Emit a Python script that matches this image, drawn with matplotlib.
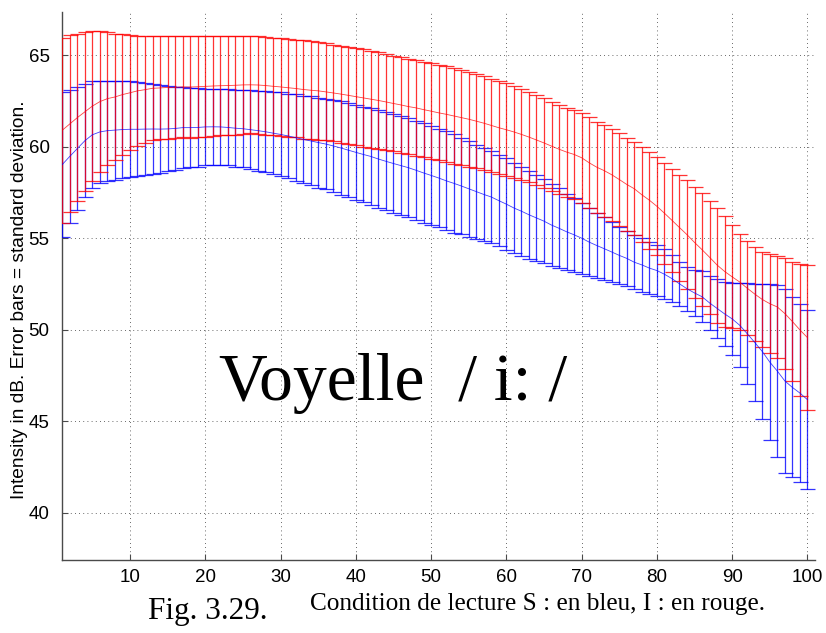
import numpy as np
import matplotlib
matplotlib.use("Agg")
import matplotlib.pyplot as plt

# ---------------- data ----------------
x = list(range(1, 101))

red_hi = [65.95, 66.09, 66.18, 66.26, 66.31, 66.31, 66.27, 66.18, 66.15, 66.11,
          66.07, 66.05, 66.04, 66.04, 66.04, 66.04, 66.04, 66.05, 66.05, 66.06,
          66.06, 66.06, 66.06, 66.06, 66.06, 66.05, 66.05, 66.03, 65.98, 65.95,
          65.91, 65.87, 65.82, 65.77, 65.73, 65.66, 65.59, 65.54, 65.48, 65.41,
          65.34, 65.26, 65.17, 65.07, 64.99, 64.90, 64.81, 64.74, 64.64, 64.57,
          64.46, 64.41, 64.32, 64.21, 64.10, 63.99, 63.86, 63.73, 63.59, 63.48,
          63.35, 63.19, 63.01, 62.84, 62.66, 62.48, 62.30, 62.15, 62.02, 61.87,
          61.62, 61.38, 61.22, 60.98, 60.75, 60.49, 60.25, 59.98, 59.73, 59.44,
          59.15, 58.82, 58.49, 58.18, 57.80, 57.47, 57.07, 56.69, 56.21, 55.72,
          55.26, 54.84, 54.52, 54.28, 54.13, 54.04, 53.92, 53.72, 53.62, 53.53]

red_lo = [55.87, 56.42, 57.02, 57.57, 58.15, 58.64, 59.01, 59.28, 59.57, 59.81,
          60.06, 60.21, 60.37, 60.41, 60.46, 60.48, 60.52, 60.50, 60.53, 60.56,
          60.60, 60.63, 60.65, 60.68, 60.72, 60.74, 60.72, 60.68, 60.65, 60.61,
          60.56, 60.52, 60.46, 60.43, 60.40, 60.36, 60.31, 60.24, 60.16, 60.09,
          60.02, 59.96, 59.91, 59.85, 59.76, 59.69, 59.60, 59.53, 59.44, 59.34,
          59.27, 59.16, 59.07, 59.00, 58.93, 58.83, 58.74, 58.62, 58.51, 58.40,
          58.29, 58.18, 58.07, 57.92, 57.78, 57.61, 57.45, 57.29, 57.16, 56.95,
          56.65, 56.41, 56.19, 55.98, 55.69, 55.41, 55.18, 54.79, 54.45, 54.07,
          53.61, 53.16, 52.70, 52.23, 51.76, 51.30, 50.87, 50.40, 50.18, 50.08,
          49.98, 49.72, 49.40, 49.05, 48.74, 48.47, 47.87, 47.20, 46.38, 45.63]

blue_hi = [63.00, 63.09, 63.25, 63.43, 63.58, 63.62, 63.63, 63.63, 63.62, 63.58,
           63.54, 63.49, 63.43, 63.38, 63.31, 63.27, 63.25, 63.23, 63.20, 63.18,
           63.17, 63.16, 63.14, 63.12, 63.11, 63.10, 63.08, 63.05, 63.01, 62.98,
           62.92, 62.87, 62.81, 62.76, 62.70, 62.64, 62.57, 62.49, 62.40, 62.31,
           62.20, 62.11, 62.00, 61.89, 61.78, 61.68, 61.57, 61.44, 61.29, 61.15,
           61.00, 60.85, 60.71, 60.51, 60.33, 60.13, 59.93, 59.76, 59.56, 59.38,
           59.14, 58.93, 58.69, 58.47, 58.25, 57.96, 57.74, 57.45, 57.23, 56.95,
           56.65, 56.41, 56.15, 55.90, 55.65, 55.41, 55.18, 55.01, 54.79, 54.63,
           54.41, 54.08, 53.73, 53.46, 53.29, 53.21, 52.95, 52.77, 52.62, 52.57,
           52.55, 52.54, 52.53, 52.52, 52.50, 52.45, 52.22, 51.78, 51.42, 51.07]

blue_lo = [55.07, 55.87, 56.57, 57.24, 57.75, 58.02, 58.15, 58.21, 58.28, 58.35,
           58.39, 58.46, 58.53, 58.57, 58.66, 58.75, 58.86, 58.88, 58.93, 59.01,
           59.03, 59.03, 58.99, 58.93, 58.88, 58.79, 58.70, 58.61, 58.50, 58.39,
           58.28, 58.15, 58.02, 57.90, 57.78, 57.68, 57.54, 57.40, 57.25, 57.10,
           56.98, 56.85, 56.68, 56.54, 56.41, 56.28, 56.16, 56.01, 55.87, 55.74,
           55.61, 55.45, 55.32, 55.23, 55.10, 54.99, 54.88, 54.77, 54.57, 54.37,
           54.19, 54.05, 53.90, 53.77, 53.64, 53.50, 53.37, 53.28, 53.17, 53.08,
           52.95, 52.82, 52.73, 52.62, 52.50, 52.41, 52.22, 52.10, 51.97, 51.86,
           51.68, 51.53, 51.31, 51.04, 50.75, 50.42, 50.00, 49.58, 49.13, 48.64,
           47.96, 47.05, 46.10, 45.12, 43.98, 43.05, 42.20, 41.94, 41.68, 41.31]

xticks = [10, 20, 30, 40, 50, 60, 70, 80, 90, 100]
yticks = [40, 45, 50, 55, 60, 65]

ylabel = "Intensity in dB. Error bars = standard deviation."
xlabel = "Condition de lecture S : en bleu, I : en rouge."
caption = "Fig. 3.29."
overlay = "Voyelle  / i: /"

# ---------------- figure ----------------
W, H = 826, 633
fig = plt.figure(figsize=(W / 100, H / 100), dpi=100)
ax_l, ax_r, ax_b, ax_t = 62.2, 815.0, 560.0, 11.7
ax = fig.add_axes([ax_l / W, 1 - ax_b / H, (ax_r - ax_l) / W, (ax_b - ax_t) / H])

def series(hi, lo, color):
    hi = np.asarray(hi)
    lo = np.asarray(lo)
    mean = (hi + lo) / 2
    err = (hi - lo) / 2
    ax.errorbar(x, mean, yerr=err, fmt="none", ecolor=color, elinewidth=0.9,
                capsize=5.4, capthick=0.9, alpha=0.8, zorder=3)
    ax.plot(x, mean, color=color, lw=0.6, alpha=0.75, zorder=4)

series(blue_hi, blue_lo, (0.0, 0.0, 1.0))
series(red_hi, red_lo, (1.0, 0.0, 0.0))

ax.set_xlim(1, 101)
ax.set_ylim(37.43, 67.39)
ax.set_xticks(xticks)
ax.set_yticks(yticks)

for s in ("top", "right"):
    ax.spines[s].set_visible(False)
for s in ("left", "bottom"):
    ax.spines[s].set_color("#4a4a4a")
    ax.spines[s].set_linewidth(1.0)

ax.grid(True, linestyle=(0, (1, 4)), color="#222222", linewidth=0.6, alpha=0.9)
ax.set_axisbelow(True)
ax.tick_params(direction="in", length=4, width=0.8, color="#4a4a4a",
               labelsize=13.5)
ax.tick_params(axis="y", pad=9)
ax.tick_params(axis="x", pad=6.5)
for lab in ax.get_xticklabels() + ax.get_yticklabels():
    lab.set_fontfamily("Liberation Sans")

fig.text(19.5 / W, 1 - 300 / H, ylabel, rotation=90, ha="center", va="center",
         fontsize=13.8, family="Liberation Sans")

fig.text(537 / W, 1 - 604 / H, xlabel, ha="center", va="center",
         fontsize=18.2, family="Liberation Serif")
fig.text(148 / W, 1 - 612 / H, caption, ha="left", va="center",
         fontsize=22.5, family="Liberation Serif")
fig.text(219 / W, 1 - 400 / H, overlay, ha="left", va="baseline",
         fontsize=48.7, family="Liberation Serif")

fig.savefig("out.png", dpi=100)
